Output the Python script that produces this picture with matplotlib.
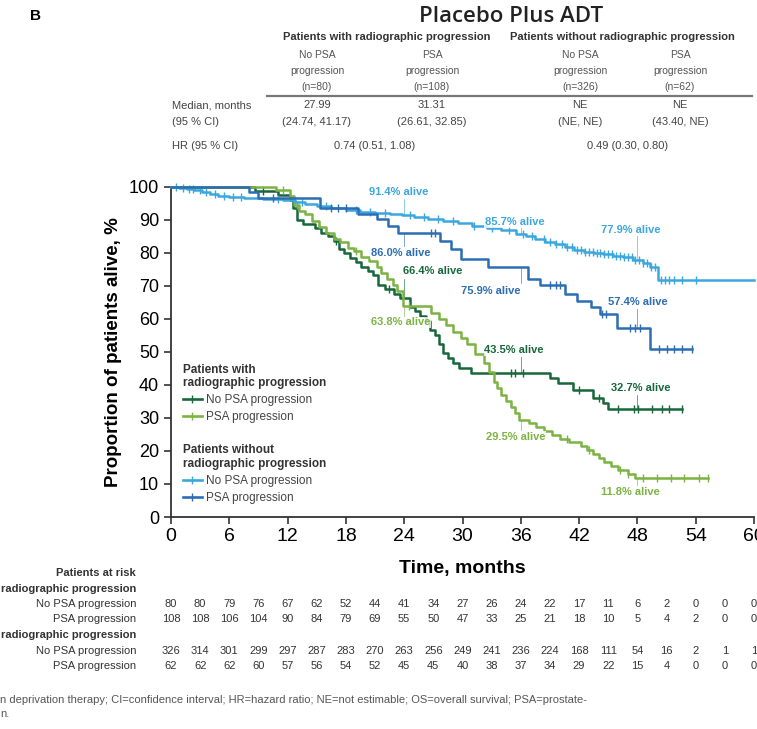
import numpy as np
import matplotlib
matplotlib.use('Agg')
import matplotlib.pyplot as plt
from matplotlib import font_manager, transforms
from matplotlib.lines import Line2D

# ---- data ----
# Patients with radiographic progression, no PSA progression (n=80)
dg_t = [0, 8.6, 11.0, 12.2, 12.6, 13.0, 13.6, 14.8, 15.4, 16.2, 16.8, 17.3, 17.8, 18.4, 19.0,
        19.6, 20.3, 20.8, 21.3, 22.0, 23.0, 23.6, 24.6, 25.1, 25.6, 26.2, 26.7, 27.2, 27.6,
        28.0, 28.5, 29.0, 29.6, 30.9, 39.0, 39.8, 41.4, 43.4, 44.5, 45.0, 52.6]
dg_s = [100, 98.7, 97.5, 96.2, 93.7, 90.0, 88.7, 87.5, 86.2, 85.0, 83.7, 81.2, 79.9, 78.6, 77.3,
        75.9, 74.6, 73.2, 70.4, 69.0, 67.7, 66.4, 63.7, 62.3, 60.9, 59.5, 56.7, 55.3, 52.4,
        49.6, 48.2, 46.8, 45.3, 43.5, 42.0, 40.5, 38.4, 36.2, 34.5, 32.7, 32.7]
dg_cens = [9.5, 17.0, 22.4, 35.0, 35.4, 36.2, 42.0, 44.0, 46.0, 47.6, 48.1, 49.5, 50.5, 51.3, 52.6]

# Patients with radiographic progression, PSA progression (n=108)
lg_t = [0, 10.8, 12.2, 12.7, 13.2, 13.8, 14.5, 15.2, 16.0, 16.8, 17.4, 18.2, 18.8, 19.6, 20.4,
        21.2, 21.6, 22.2, 22.8, 23.3, 23.9, 26.8, 27.6, 28.3, 29.0, 29.8, 30.5, 31.3, 32.2,
        32.7, 33.2, 33.6, 34.0, 34.5, 35.0, 35.4, 35.8, 36.8, 37.6, 38.4, 39.2, 40.0, 41.0,
        42.2, 42.8, 43.4, 44.0, 44.6, 45.3, 46.0, 47.0, 47.8, 55.3]
lg_s = [100, 99.1, 97.2, 94.4, 92.6, 91.7, 89.8, 88.0, 86.1, 84.3, 83.3, 81.5, 80.5, 78.7, 77.7,
        75.9, 74.0, 72.2, 70.3, 68.4, 63.8, 61.9, 60.0, 58.1, 56.2, 54.3, 52.4, 49.5, 46.7,
        43.8, 41.0, 39.0, 37.1, 35.2, 33.3, 31.4, 29.5, 28.4, 27.2, 26.0, 24.7, 23.5, 22.7,
        21.5, 20.3, 19.0, 17.8, 16.6, 15.4, 14.2, 13.0, 11.8, 11.8]
lg_cens = [11.5, 13.0, 19.0, 24.5, 40.8, 43.0, 46.2, 47.0, 48.6, 50.0, 51.5, 52.8, 54.3, 55.3]

# Patients without radiographic progression, no PSA progression (n=326)
lb_t = [0, 0.8, 1.6, 2.4, 3.2, 4.0, 4.8, 6.0, 7.5, 9.5, 11.5, 12.8, 13.8, 15.0, 16.5, 18.0,
        19.5, 21.0, 22.5, 23.8, 25.0, 26.5, 28.0, 29.5, 31.0, 32.5, 34.0, 35.5, 36.5, 37.5,
        38.5, 39.5, 40.5, 41.5, 42.5, 43.5, 44.5, 45.5, 46.5, 47.5, 48.6, 49.3, 50.1, 60.0]
lb_s = [100, 99.7, 99.4, 99.1, 98.5, 97.8, 97.2, 96.9, 96.6, 96.3, 96.0, 95.4, 94.8, 94.2, 93.6,
        93.0, 92.4, 92.0, 91.7, 91.4, 90.8, 90.2, 89.6, 89.0, 88.3, 87.6, 86.9, 85.7, 85.0,
        84.2, 83.4, 82.6, 81.8, 81.0, 80.4, 80.0, 79.6, 79.2, 78.8, 77.9, 77.0, 75.8, 71.9, 71.9]
lb_cens = [0.5, 1.2, 1.9, 2.3, 3.0, 3.6, 4.5, 5.5, 6.4, 7.2, 11.0, 13.5, 16.0, 19.0, 20.5, 22.0,
           24.6, 26.0, 27.5, 29.0, 31.2, 33.0, 34.8, 36.2, 37.2, 38.4, 39.0, 39.6, 40.2, 40.8,
           41.3, 41.8, 42.2, 42.6, 43.0, 43.4, 43.8, 44.2, 44.6, 45.0, 45.4, 45.8, 46.2, 46.6,
           47.0, 47.4, 47.8, 48.2, 48.6, 49.0, 49.4, 49.8, 50.4, 50.8, 51.3, 51.8, 52.6, 54.0]

# Patients without radiographic progression, PSA progression (n=62)
bl_t = [0, 8.0, 9.0, 15.3, 19.2, 21.2, 22.3, 23.4, 27.7, 28.8, 29.8, 32.6, 36.7, 38.0, 40.6,
        41.8, 43.2, 44.2, 45.9, 49.3, 53.6]
bl_s = [100, 98.4, 96.8, 93.5, 91.9, 90.3, 88.2, 86.0, 83.6, 81.2, 78.3, 75.9, 72.0, 70.2, 67.6,
        65.6, 63.6, 61.4, 57.4, 50.8, 50.8]
bl_cens = [10.5, 16.5, 17.2, 18.0, 26.8, 27.2, 39.0, 39.6, 40.0, 44.4, 44.8, 47.2, 47.8, 48.3,
           50.2, 51.0, 51.8, 52.6, 53.6]

# labels on the curves: (text, time of pointer, value, text x, text y, pointer end)
dg_notes = [('66.4% alive', 24, 66.4, 26.9, 74.5, 72.0), ('43.5% alive', 36, 43.5, 35.3, 50.6, 48.5),
            ('32.7% alive', 48, 32.7, 48.3, 39.0, 37.0)]
lg_notes = [('63.8% alive', 24, 63.8, 23.6, 59.0, 61.0), ('29.5% alive', 36, 29.5, 35.5, 24.2, 26.5),
            ('11.8% alive', 48, 11.8, 47.3, 7.6, 9.8)]
lb_notes = [('91.4% alive', 24, 91.4, 23.4, 98.5, 96.5), ('85.7% alive', 36, 85.7, 35.4, 89.4, 87.5),
            ('77.9% alive', 48, 77.9, 47.3, 87.0, 85.0)]
bl_notes = [('86.0% alive', 24, 86.0, 23.6, 80.0, 82.0), ('75.9% alive', 36, 75.9, 32.9, 68.5, 71.0),
            ('57.4% alive', 48, 57.4, 48.0, 65.0, 63.0)]

# summary table
col_heads = ['No PSA\nprogression\n(n=80)', 'PSA\nprogression\n(n=108)',
             'No PSA\nprogression\n(n=326)', 'PSA\nprogression\n(n=62)']
medians = ['27.99', '31.31', 'NE', 'NE']
med_ci = ['(24.74, 41.17)', '(26.61, 32.85)', '(NE, NE)', '(43.40, NE)']
hr_vals = ['0.74 (0.51, 1.08)', '0.49 (0.30, 0.80)']

# patients at risk
risk_times = [0, 3, 6, 9, 12, 15, 18, 21, 24, 27, 30, 33, 36, 39, 42, 45, 48, 51, 54, 57, 60]
risk_dg = [80, 80, 79, 76, 67, 62, 52, 44, 41, 34, 27, 26, 24, 22, 17, 11, 6, 2, 0, 0, 0]
risk_lg = [108, 108, 106, 104, 90, 84, 79, 69, 55, 50, 47, 33, 25, 21, 18, 10, 5, 4, 2, 0, 0]
risk_lb = [326, 314, 301, 299, 297, 287, 283, 270, 263, 256, 249, 241, 236, 224, 168, 111, 54, 16, 2, 1, 1]
risk_bl = [62, 62, 62, 60, 57, 56, 54, 52, 45, 45, 40, 38, 37, 34, 29, 22, 15, 4, 0, 0, 0]

C_DG = '#17673a'
C_LG = '#7cb342'
C_LB = '#3ba7de'
C_BL = '#2c6db3'

names = {f.name for f in font_manager.fontManager.ttflist}
NARROW = 'Liberation Sans Narrow' if 'Liberation Sans Narrow' in names else 'Liberation Sans'
plt.rcParams['font.family'] = [NARROW, 'DejaVu Sans']

W, H = 757, 729
fig = plt.figure(figsize=(W / 100, H / 100), dpi=100)


def fx(x):
    return x / W


def fy(y):
    return 1 - y / H


# ---- header table ----
fig.text(fx(30), fy(16), 'B', fontsize=11, fontweight='bold', family='Liberation Sans', va='center')
fig.text(fx(511), fy(16), 'Placebo Plus ADT', fontsize=16, fontweight='semibold', family='Open Sans',
         ha='center', va='center', color='#222222')
fig.text(fx(387), fy(37), 'Patients with radiographic progression', fontsize=8, fontweight='bold',
         ha='center', va='center', color='#333333')
fig.text(fx(622), fy(37), 'Patients without radiographic progression', fontsize=8, fontweight='bold',
         ha='center', va='center', color='#333333')
col_x = [317, 432, 580, 680]
for cx, head, med, ci in zip(col_x, col_heads, medians, med_ci):
    fig.text(fx(cx), fy(71), head, fontsize=7.5, ha='center', va='center', color='#555555',
             linespacing=1.7)
    fig.text(fx(cx), fy(105), med, fontsize=8, ha='center', va='center', color='#444444')
    fig.text(fx(cx), fy(122), ci, fontsize=8, ha='center', va='center', color='#444444')
fig.add_artist(Line2D([fx(267), fx(752)], [fy(96), fy(96)], color='#777777', lw=1.6))
fig.text(fx(172), fy(105), 'Median, months', fontsize=8, va='center', color='#444444')
fig.text(fx(172), fy(122), '(95 % CI)', fontsize=8, va='center', color='#444444')
fig.text(fx(172), fy(146), 'HR (95 % CI)', fontsize=8, va='center', color='#444444')
fig.text(fx(375), fy(146), hr_vals[0], fontsize=8, ha='center', va='center', color='#444444')
fig.text(fx(628), fy(146), hr_vals[1], fontsize=8, ha='center', va='center', color='#444444')

# ---- KM plot ----
ax = fig.add_axes([fx(171), fy(517), (754 - 171) / W, (517 - 187) / H])
curves = [(dg_t, dg_s, dg_cens, C_DG, dg_notes), (lg_t, lg_s, lg_cens, C_LG, lg_notes),
          (lb_t, lb_s, lb_cens, C_LB, lb_notes), (bl_t, bl_s, bl_cens, C_BL, bl_notes)]
for t, s, cens, col, notes in curves:
    ax.plot(t, s, drawstyle='steps-post', color=col, lw=1.8, clip_on=False, zorder=3)
    idx = np.searchsorted(t, cens, side='right') - 1
    ax.plot(cens, np.array(s)[idx], ls='none', marker='|', ms=6, mew=1.0, color=col,
            clip_on=False, zorder=3)
    for txt, tp, val, tx, ty, yend in notes:
        ax.plot([tp, tp], [val, yend], color=col, lw=0.6, alpha=0.7, zorder=2)
        ax.text(tx, ty, txt, color=col, fontsize=8, fontweight='bold', ha='center',
                va='center', zorder=4,
                bbox=dict(facecolor='white', edgecolor='none', pad=0.5, alpha=0.8))

ax.set_xlim(0, 60)
ax.set_ylim(0, 100)
ax.set_xticks(range(0, 61, 6))
ax.set_yticks(range(0, 101, 10))
for sp in ['top', 'right']:
    ax.spines[sp].set_visible(False)
for sp in ['left', 'bottom']:
    ax.spines[sp].set_linewidth(1.3)
    ax.spines[sp].set_color('#333333')
ax.tick_params(axis='both', length=5, width=1.2, color='#333333')
ax.tick_params(axis='y', labelsize=13, labelfontfamily='Liberation Sans')
ax.tick_params(axis='x', labelsize=14, pad=3)
ax.set_ylabel('Proportion of patients alive, %', fontsize=13.5, fontweight='bold',
              family='Liberation Sans', labelpad=5)
ax.set_xlabel('Time, months', fontsize=14, fontweight='bold', labelpad=11)

h1 = [Line2D([], [], color=C_DG, lw=1.9, marker='|', ms=6),
      Line2D([], [], color=C_LG, lw=1.9, marker='|', ms=6)]
h2 = [Line2D([], [], color=C_LB, lw=1.9, marker='|', ms=6),
      Line2D([], [], color=C_BL, lw=1.9, marker='|', ms=6)]
leg1 = ax.legend(h1, ['No PSA progression', 'PSA progression'], loc='upper left',
                 bbox_to_anchor=(0.02, 0.465), frameon=False, fontsize=8.5, handlelength=1.6,
                 handletextpad=0.4, labelspacing=0.4, borderpad=0, borderaxespad=0,
                 title='Patients with\nradiographic progression', title_fontsize=8.5,
                 alignment='left')
leg1.get_title().set_fontweight('bold')
leg1.get_title().set_color('#333333')
ax.add_artist(leg1)
leg2 = ax.legend(h2, ['No PSA progression', 'PSA progression'], loc='upper left',
                 bbox_to_anchor=(0.02, 0.22), frameon=False, fontsize=8.5, handlelength=1.6,
                 handletextpad=0.4, labelspacing=0.4, borderpad=0, borderaxespad=0,
                 title='Patients without\nradiographic progression', title_fontsize=8.5,
                 alignment='left')
leg2.get_title().set_fontweight('bold')
leg2.get_title().set_color('#333333')
for lg in (leg1, leg2):
    for t in lg.get_texts():
        t.set_color('#444444')

# ---- patients at risk ----
tr = transforms.blended_transform_factory(ax.transData, fig.transFigure)
fig.text(fx(136), fy(573), 'Patients at risk', fontsize=8, fontweight='bold', ha='right',
         va='center', color='#333333')
rows = [(589, 'radiographic progression', None), (604, 'No PSA progression', risk_dg),
        (619, 'PSA progression', risk_lg), (635, 'radiographic progression', None),
        (651, 'No PSA progression', risk_lb), (666, 'PSA progression', risk_bl)]
for yy, lab, vals in rows:
    bold = vals is None
    fig.text(fx(136), fy(yy), lab, fontsize=8, ha='right', va='center', color='#333333',
             fontweight='bold' if bold else 'normal')
    if vals is not None:
        for tt, v in zip(risk_times, vals):
            ax.text(tt, fy(yy), str(v), transform=tr, fontsize=8, ha='center', va='center',
                    color='#333333', clip_on=False)

fig.text(fx(0), fy(700), 'n deprivation therapy; CI=confidence interval; HR=hazard ratio; '
         'NE=not estimable; OS=overall survival; PSA=prostate-', fontsize=8, va='center',
         family='Liberation Sans', color='#555555')
fig.text(fx(0), fy(714), 'n.', fontsize=8, va='center', family='Liberation Sans', color='#555555')

fig.savefig('out.png', dpi=100)
